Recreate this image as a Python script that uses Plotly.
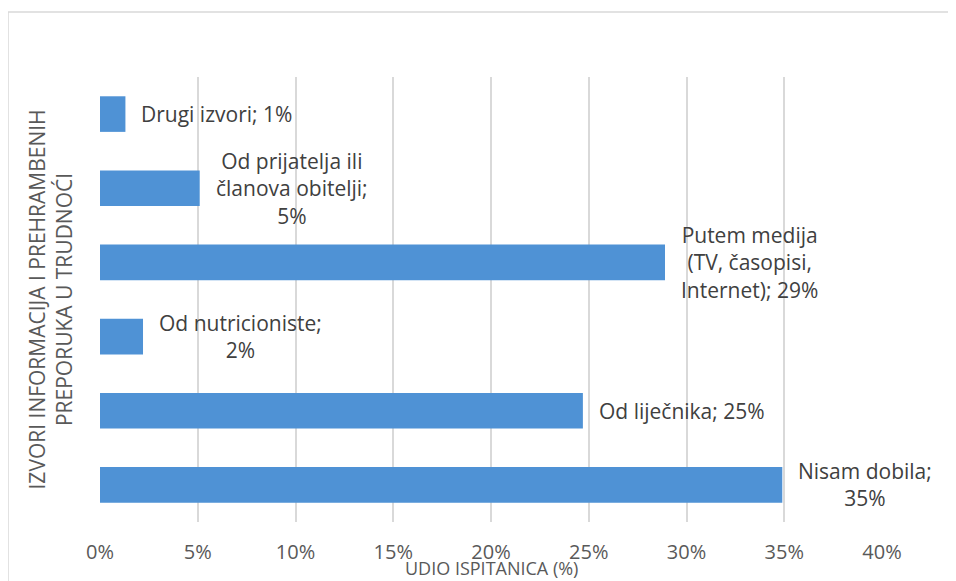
import plotly.graph_objects as go

# Data (bottom to top)
categories = ["Nisam dobila", "Od liječnika", "Od nutricioniste", "Putem medija",
              "Od prijatelja ili članova obitelji", "Drugi izvori"]
values = [34.9, 24.7, 2.2, 28.9, 5.1, 1.3]
labels = ["Nisam dobila;<br>35%", "Od liječnika; 25%", "Od nutricioniste;<br>2%",
          "Putem medija<br>(TV, časopisi,<br>Internet); 29%",
          "Od prijatelja ili<br>članova obitelji;<br>5%", "Drugi izvori; 1%"]
tick_vals = [0, 5, 10, 15, 20, 25, 30, 35, 40]
tick_text = ["0%", "5%", "10%", "15%", "20%", "25%", "30%", "35%", "40%"]
x_title = "UDIO ISPITANICA (%)"
y_title = "IZVORI INFORMACIJA I PREHRAMBENIH<br>PREPORUKA U TRUDNOĆI"

FONT = "Open Sans"
PLOT_W = 782
PLOT_H = 445
fig = go.Figure()
fig.add_trace(go.Bar(
    x=values, y=categories, orientation="h",
    marker=dict(color="#4F92D5", line=dict(width=0)),
    hoverinfo="skip",
))

annotations = []
for c, v, t in zip(categories, values, labels):
    annotations.append(dict(
        x=v, y=c, xref="x", yref="y", text=t, showarrow=False,
        xanchor="left", yanchor="middle", xshift=14, align="center",
        font=dict(family=FONT, size=21, color="#404040"),
    ))
annotations.append(dict(
    x=-50 / PLOT_W, y=0.5, xref="paper", yref="paper", text=y_title,
    showarrow=False, textangle=-90, xanchor="center", yanchor="middle",
    align="center", font=dict(family=FONT, size=21, color="#595959"),
))
annotations.append(dict(
    x=0.5, y=-46 / PLOT_H, xref="paper", yref="paper", text=x_title,
    showarrow=False, xanchor="center", yanchor="middle",
    font=dict(family=FONT, size=18, color="#595959"),
))

fig.update_layout(
    width=956, height=581,
    margin=dict(l=92, r=82, t=69, b=67),
    paper_bgcolor="white", plot_bgcolor="white",
    showlegend=False,
    bargap=0.52,
    annotations=annotations,
    shapes=[dict(type="rect", xref="paper", yref="paper",
                 x0=-92 / PLOT_W, x1=1.3, y0=-0.4, y1=1 + 65 / PLOT_H,
                 line=dict(color="#D9D9D9", width=1.5), fillcolor="rgba(0,0,0,0)",
                 layer="below")],
    xaxis=dict(
        range=[0, 40], tickvals=tick_vals, ticktext=tick_text,
        showgrid=True, gridcolor="#D9D9D9", gridwidth=1.5,
        zeroline=False, showline=False,
        ticks="", ticklabelstandoff=16,
        tickfont=dict(family=FONT, size=20, color="#595959"),
        fixedrange=True,
    ),
    yaxis=dict(
        categoryorder="array", categoryarray=categories,
        showticklabels=False, showgrid=False, zeroline=False, showline=False,
        ticks="", fixedrange=True,
    ),
)

fig.write_html("out.html")
